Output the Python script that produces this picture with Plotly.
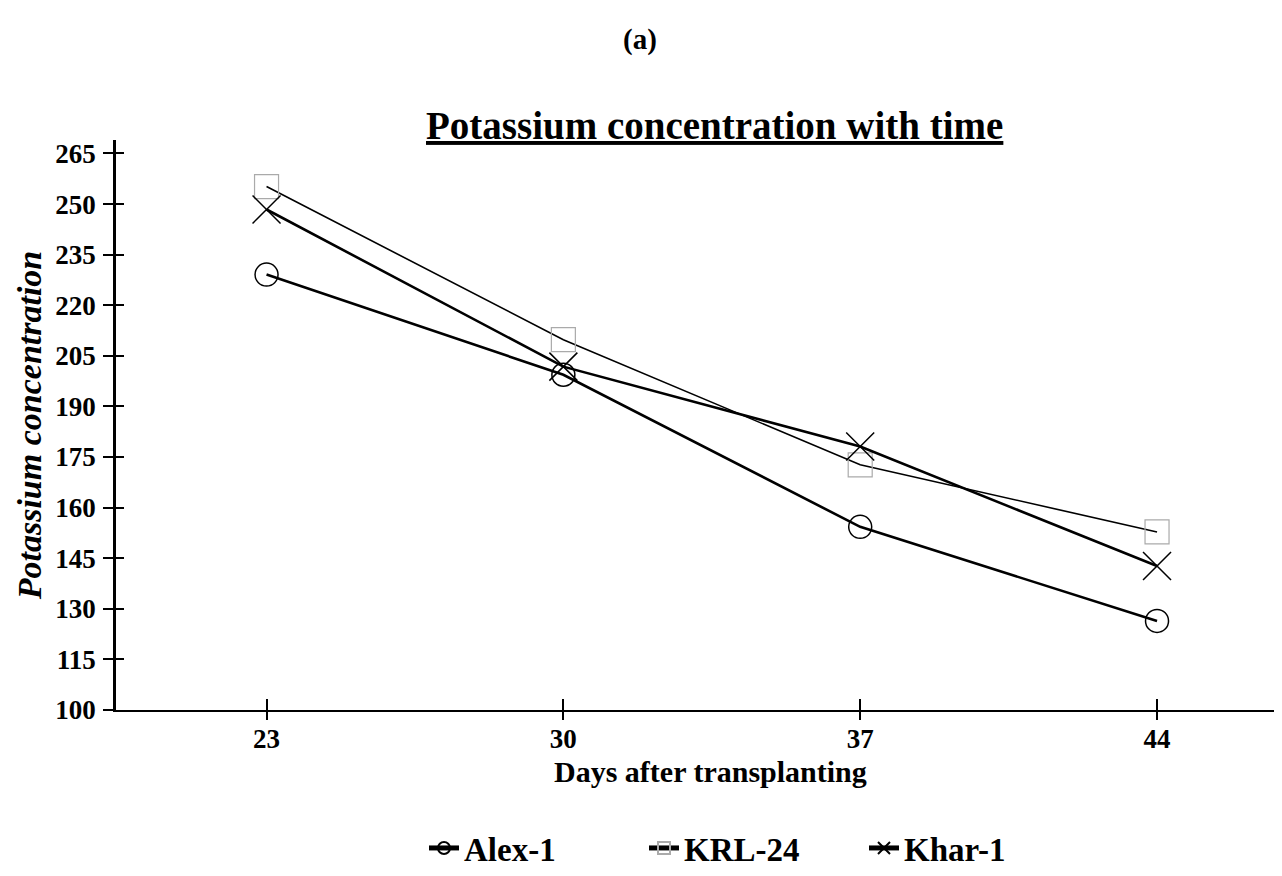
import plotly.graph_objects as go

days = [23, 30, 37, 44]
alex1 = [229.1, 199.4, 154.3, 126.4]
krl24 = [255.2, 209.8, 172.7, 152.8]
khar1 = [248.4, 201.8, 178.1, 142.7]
y_ticks = [100, 115, 130, 145, 160, 175, 190, 205, 220, 235, 250, 265]

FONT = "Liberation Serif"
OFF = 8  # default page body margin
W, H = 1282 - OFF, 876 - OFF
ML, MR, MT, MB = 108, 2, 132, 166
PH = H - MT - MB
PW = W - ML - MR


def px_x(x):
    return (x - OFF - ML) / PW


def px_y(y):
    return 1 - (y - OFF - MT) / PH


fig = go.Figure()
fig.add_trace(go.Scatter(x=days, y=alex1, name="Alex-1", mode="lines+markers",
                         line=dict(color="black", width=2.6),
                         marker=dict(symbol="circle-open", size=23, color="black",
                                     line=dict(width=1.5, color="black"))))
fig.add_trace(go.Scatter(x=days, y=krl24, name="KRL-24", mode="lines+markers",
                         line=dict(color="black", width=1.6),
                         marker=dict(symbol="square-open", size=24, color="#aaaaaa",
                                     line=dict(width=1.2, color="#aaaaaa"))))
fig.add_trace(go.Scatter(x=days, y=khar1, name="Khar-1", mode="lines+markers",
                         line=dict(color="black", width=2.6),
                         marker=dict(symbol="x-thin-open", size=28, color="black",
                                     line=dict(width=1.5, color="black"))))

axis_font = dict(family=FONT, size=27, color="black", weight="bold")

fig.update_layout(
    width=W, height=H,
    paper_bgcolor="white", plot_bgcolor="white",
    margin=dict(l=ML, r=MR, t=MT, b=MB, autoexpand=False),
    font=dict(family=FONT, color="black"),
    showlegend=True,
    legend=dict(orientation="h", x=px_x(754), xanchor="center",
                y=px_y(848), yanchor="middle",
                font=dict(family=FONT, size=33, color="black", weight="bold"),
                itemsizing="constant", entrywidth=175, entrywidthmode="pixels"),
    xaxis=dict(range=[19.45, 46.9], tickvals=days, ticks="outside", ticklen=8,
               tickwidth=2, tickcolor="black", showline=True, linecolor="black",
               linewidth=2, showgrid=False, zeroline=False, tickfont=axis_font,
               automargin=False, ticklabelstandoff=-4),
    yaxis=dict(range=[100, 269], tickvals=y_ticks, ticks="outside", ticklen=10,
               tickwidth=2, tickcolor="black", showline=True, linecolor="black",
               linewidth=2.5, showgrid=False, zeroline=False, tickfont=axis_font,
               automargin=False, ticklabelstandoff=2,
               title=dict(text="<i>Potassium concentration</i>", standoff=4,
                          font=dict(family=FONT, size=34, color="black", weight="bold"))),
    xaxis2=dict(overlaying="x", matches="x", tickvals=days, ticks="inside", ticklen=11,
                tickwidth=2, tickcolor="black", showticklabels=False, showgrid=False,
                zeroline=False, side="bottom", anchor="y", automargin=False),
    yaxis2=dict(overlaying="y", matches="y", tickvals=y_ticks, ticks="inside", ticklen=8,
                tickwidth=2, tickcolor="black", showticklabels=False, showgrid=False,
                zeroline=False, side="left", anchor="x", automargin=False),
    annotations=[
        dict(text="<b>(a)</b>", x=px_x(640), y=px_y(40),
             xref="paper", yref="paper", showarrow=False, yanchor="middle",
             font=dict(family=FONT, size=29, color="black")),
        dict(text="<b><u>Potassium concentration with time</u></b>",
             x=px_x(715), y=px_y(126), yanchor="middle",
             xref="paper", yref="paper", showarrow=False,
             font=dict(family=FONT, size=39, color="black")),
        dict(text="<b>Days after transplanting</b>",
             x=px_x(710), y=px_y(771), yanchor="middle",
             xref="paper", yref="paper", showarrow=False,
             font=dict(family=FONT, size=30, color="black")),
    ],
)

fig.add_trace(go.Scatter(x=[days[0]], y=[y_ticks[0]], xaxis="x2", yaxis="y2",
                         mode="markers", marker=dict(opacity=0), showlegend=False,
                         hoverinfo="skip"))

fig.write_html("out.html")
